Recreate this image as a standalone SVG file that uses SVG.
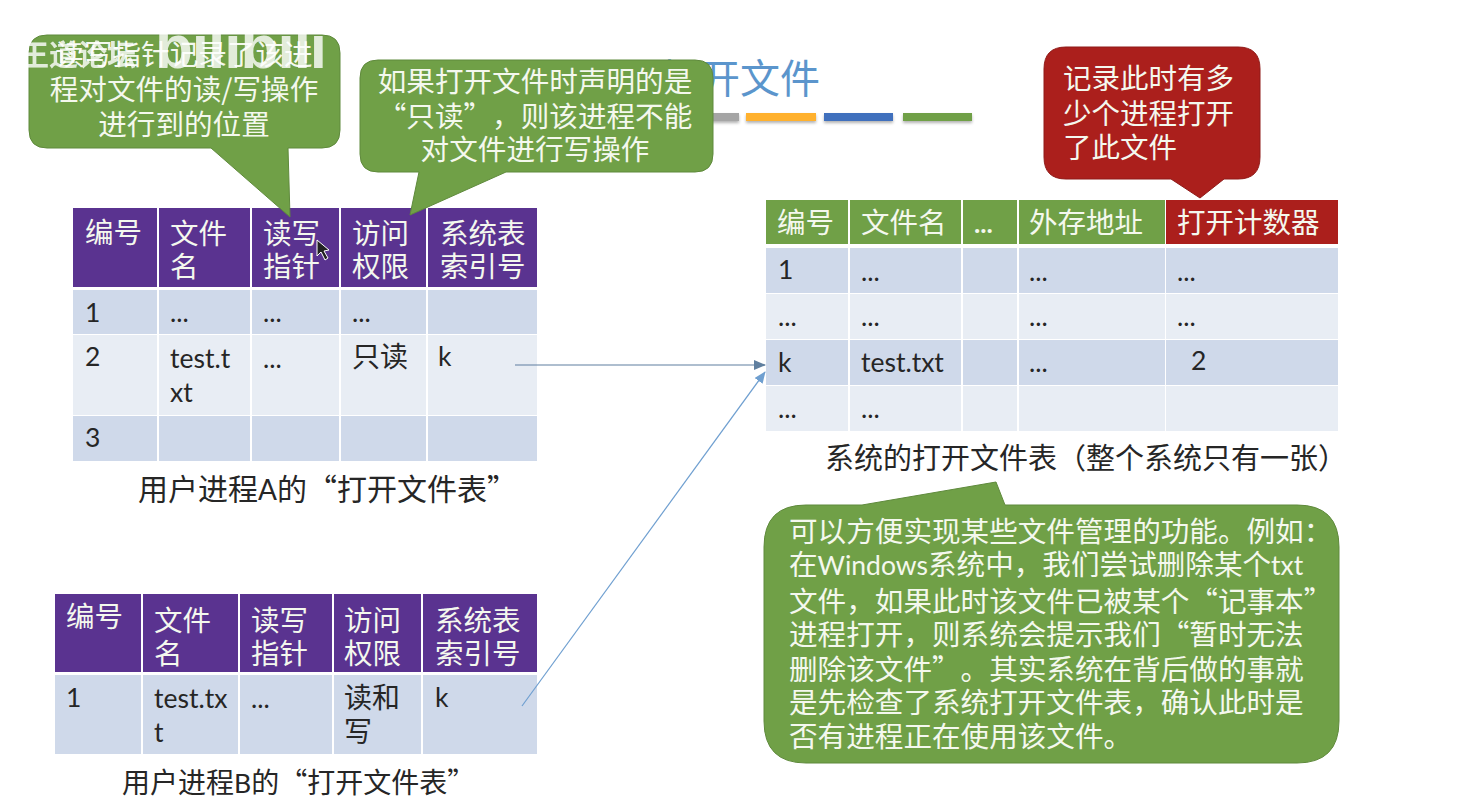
<svg xmlns="http://www.w3.org/2000/svg" width="1463" height="808" viewBox="0 0 1463 808" lang="zh-CN">
<style>
text{font-family:"Noto Sans CJK SC","Noto Sans",sans-serif;font-size:28px;fill:#262626;text-spacing-trim:space-all}
.w text,text.w{fill:#f4f8ee}
.n text{font-size:28.6px}
.h text{font-size:28.5px}
.l,text.l{font-family:Lato,"Noto Sans",sans-serif;font-size:26.5px}
.p{fill:#5a3390}.g{fill:#70a047}.r{fill:#ab1f1c}.a{fill:#cfd9ea}.b{fill:#e8edf4}
.c{text-anchor:middle}
.bub{stroke:#5f8a3c;stroke-width:1}
.rb{stroke:#8f1a18;stroke-width:1}
.conn{fill:none;stroke-width:1.2}
</style>
<defs>
<marker id="ah1" markerWidth="12" markerHeight="10" refX="11" refY="5" orient="auto" markerUnits="userSpaceOnUse"><path d="M0 0L12 5L0 10Z" fill="#5f7f9f"/></marker>
<marker id="ah2" markerWidth="12" markerHeight="10" refX="11" refY="5" orient="auto" markerUnits="userSpaceOnUse"><path d="M0 0L12 5L0 10Z" fill="#6f9fd0"/></marker>
<filter id="sh" x="-10%" y="-50%" width="120%" height="220%"><feDropShadow dx="0" dy="2" stdDeviation="1.5" flood-color="#000" flood-opacity="0.3"/></filter>
</defs>
<rect width="1463" height="808" fill="#fff"/>

<g id="title">
<text x="660" y="93" style="font-size:40px;fill:#5b95cc">打开文件</text>
<g filter="url(#sh)">
<rect x="668" y="113" width="71" height="8" fill="#a5a5a5"/>
<rect x="746" y="113" width="70" height="8" fill="#ffb12f"/>
<rect x="824" y="113" width="69" height="8" fill="#3f70bd"/>
<rect x="903" y="113" width="69" height="8" fill="#70a047"/>
</g>
</g>

<g id="table-a">
<g class="p">
<rect x="73" y="208" width="84" height="79"/><rect x="159" y="208" width="91" height="79"/><rect x="252" y="208" width="87" height="79"/><rect x="341" y="208" width="85" height="79"/><rect x="428" y="208" width="109" height="79"/>
</g>
<g class="a">
<rect x="73" y="290" width="84" height="44"/><rect x="159" y="290" width="91" height="44"/><rect x="252" y="290" width="87" height="44"/><rect x="341" y="290" width="85" height="44"/><rect x="428" y="290" width="109" height="44"/>
<rect x="73" y="416" width="84" height="45"/><rect x="159" y="416" width="91" height="45"/><rect x="252" y="416" width="87" height="45"/><rect x="341" y="416" width="85" height="45"/><rect x="428" y="416" width="109" height="45"/>
</g>
<g class="b">
<rect x="73" y="335" width="84" height="80"/><rect x="159" y="335" width="91" height="80"/><rect x="252" y="335" width="87" height="80"/><rect x="341" y="335" width="85" height="80"/><rect x="428" y="335" width="109" height="80"/>
</g>
<g class="w h">
<text x="85" y="243">编号</text><text x="170" y="244">文件</text><text x="170" y="277">名</text><text x="263" y="244">读写</text><text x="263" y="277">指针</text><text x="352" y="244">访问</text><text x="352" y="277">权限</text><text x="440" y="244">系统表</text><text x="440" y="277">索引号</text>
</g>
<text class="l" x="85" y="322">1</text><text class="l" x="170" y="322">...</text><text class="l" x="263" y="322">...</text><text class="l" x="352" y="322">...</text>
<text class="l" x="85" y="366">2</text><text class="l" x="170" y="368">test.t</text><text class="l" x="170" y="402">xt</text><text class="l" x="263" y="368">...</text><text x="352" y="367">只读</text><text class="l" x="438" y="366">k</text>
<text class="l" x="85" y="447">3</text>
<text x="138" y="500" style="font-size:30px">用户进程<tspan class="l" style="font-size:28px">A</tspan>的“打开文件表”</text>
</g>

<g id="table-b">
<g class="p">
<rect x="55" y="594" width="86" height="78"/><rect x="143" y="594" width="95" height="78"/><rect x="240" y="594" width="92" height="78"/><rect x="334" y="594" width="87" height="78"/><rect x="423" y="594" width="114" height="78"/>
</g>
<g class="a">
<rect x="55" y="675" width="86" height="79"/><rect x="143" y="675" width="95" height="79"/><rect x="240" y="675" width="92" height="79"/><rect x="334" y="675" width="87" height="79"/><rect x="423" y="675" width="114" height="79"/>
</g>
<g class="w h">
<text x="66" y="627">编号</text><text x="154" y="631">文件</text><text x="154" y="664">名</text><text x="251" y="631">读写</text><text x="251" y="664">指针</text><text x="344" y="631">访问</text><text x="344" y="664">权限</text><text x="435" y="631">系统表</text><text x="435" y="664">索引号</text>
</g>
<text class="l" x="66" y="707">1</text><text class="l" x="154" y="708">test.tx</text><text class="l" x="154" y="742">t</text><text class="l" x="251" y="708">...</text><text x="344" y="708">读和</text><text x="344" y="742">写</text><text class="l" x="435" y="707">k</text>
<text x="122" y="793">用户进程<tspan class="l">B</tspan>的“打开文件表”</text>
</g>

<g id="table-sys">
<g class="g">
<rect x="766" y="200" width="82" height="44"/><rect x="850" y="200" width="111" height="44"/><rect x="963" y="200" width="54" height="44"/><rect x="1019" y="200" width="146" height="44"/>
</g>
<rect class="r" x="1166" y="200" width="172" height="44"/>
<g class="a">
<rect x="766" y="248" width="82" height="45"/><rect x="850" y="248" width="111" height="45"/><rect x="963" y="248" width="54" height="45"/><rect x="1019" y="248" width="146" height="45"/><rect x="1166" y="248" width="172" height="45"/>
<rect x="766" y="340" width="82" height="45"/><rect x="850" y="340" width="111" height="45"/><rect x="963" y="340" width="54" height="45"/><rect x="1019" y="340" width="146" height="45"/><rect x="1166" y="340" width="172" height="45"/>
</g>
<g class="b">
<rect x="766" y="294" width="82" height="45"/><rect x="850" y="294" width="111" height="45"/><rect x="963" y="294" width="54" height="45"/><rect x="1019" y="294" width="146" height="45"/><rect x="1166" y="294" width="172" height="45"/>
<rect x="766" y="386" width="82" height="45"/><rect x="850" y="386" width="111" height="45"/><rect x="963" y="386" width="54" height="45"/><rect x="1019" y="386" width="146" height="45"/><rect x="1166" y="386" width="172" height="45"/>
</g>
<g class="w h">
<text x="777" y="233">编号</text><text x="861" y="233">文件名</text><text class="l" x="974" y="233" style="font-weight:700">...</text><text x="1029" y="233">外存地址</text><text x="1177" y="233">打开计数器</text>
</g>
<text class="l" x="778" y="279">1</text><text class="l" x="861" y="281">...</text><text class="l" x="1029" y="281">...</text><text class="l" x="1177" y="281">...</text>
<text class="l" x="778" y="326">...</text><text class="l" x="861" y="326">...</text><text class="l" x="1029" y="326">...</text><text class="l" x="1177" y="326">...</text>
<text class="l" x="778" y="372">k</text><text class="l" x="861" y="372">test.txt</text><text class="l" x="1029" y="372">...</text><text class="l" x="1191" y="370">2</text>
<text class="l" x="778" y="418">...</text><text class="l" x="861" y="418">...</text>
<text x="825" y="469" style="font-size:29px">系统的打开文件表（整个系统只有一张）</text>
</g>

<g id="connectors">
<path class="conn" d="M515 365H765" stroke="#5f7f9f" marker-end="url(#ah1)"/>
<path class="conn" d="M522 706L765 372" stroke="#6f9fd0" marker-end="url(#ah2)"/>
</g>

<g id="callout-pointer" class="w n">
<path class="g bub" d="M47 35H322Q340 35 340 53V130Q340 148 322 148H288L290 217L211 148H47Q29 148 29 130V53Q29 35 47 35Z"/>
<text class="c" x="184" y="65">读写指针记录了该进</text>
<text class="c" x="184" y="100">程对文件的读/写操作</text>
<text class="c" x="184" y="135">进行到的位置</text>
</g>

<g id="callout-access" class="w n">
<path class="g bub" d="M378 60H695Q713 60 713 78V154Q713 172 695 172H506L410 215L419 172H378Q360 172 360 154V78Q360 60 378 60Z"/>
<text class="c" x="535" y="92">如果打开文件时声明的是</text>
<text class="c" x="535" y="127">“只读”，则该进程不能</text>
<text class="c" x="535" y="160">对文件进行写操作</text>
</g>

<g id="callout-counter" class="w h">
<path class="r rb" d="M1066 47H1238Q1260 47 1260 69V157Q1260 179 1238 179H1224L1200 198L1171 179H1066Q1044 179 1044 157V69Q1044 47 1066 47Z"/>
<text x="1063" y="89">记录此时有多</text>
<text x="1063" y="124">少个进程打开</text>
<text x="1063" y="158">了此文件</text>
</g>

<g id="callout-note" class="w n">
<path class="g bub" d="M806 505H862L996 482L1005 505H1297Q1339 505 1339 547V721Q1339 763 1297 763H806Q764 763 764 721V547Q764 505 806 505Z"/>
<text x="789" y="542">可以方便实现某些文件管理的功能。例如：</text>
<text x="789" y="575">在<tspan class="l">Windows</tspan>系统中，我们尝试删除某个<tspan class="l">txt</tspan></text>
<text x="789" y="612">文件，如果此时该文件已被某个“记事本”</text>
<text x="789" y="645">进程打开，则系统会提示我们“暂时无法</text>
<text x="789" y="680">删除该文件”。其实系统在背后做的事就</text>
<text x="789" y="713">是先检查了系统打开文件表，确认此时是</text>
<text x="789" y="747">否有进程正在使用该文件。</text>
</g>

<g id="watermark" opacity="0.8">
<text x="20" y="66" style="font-size:29px;font-weight:700;fill:#fff">王道论坛</text>
<text x="155" y="68" style="font-size:62px;font-weight:700;fill:#fff;font-family:'Liberation Sans',sans-serif;letter-spacing:-1px">bilibili</text>
</g>

<path id="cursor" d="M317 240L317 256L321 252L325 260L328 258L324 251L329 250Z" fill="#222" stroke="#fff" stroke-width="1"/>
</svg>
